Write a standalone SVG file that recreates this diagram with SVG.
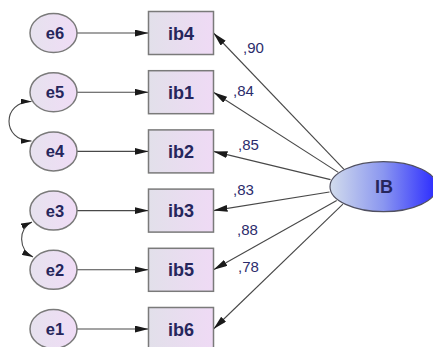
<svg xmlns="http://www.w3.org/2000/svg" width="433" height="347" viewBox="0 0 433 347">
<style>
.box{fill:url(#gBox);stroke:#7a7a7a;stroke-width:1.5}
.err{fill:url(#gErr);stroke:#7a7a7a;stroke-width:1.5}
.lat{fill:url(#gLat);stroke:#505060;stroke-width:1.2}
.t{font-family:"Liberation Sans",Arial,sans-serif;font-weight:bold;fill:#26265c;text-anchor:middle}
.te{font-size:16.5px}
.tb{font-size:18px}
.tl{font-size:18px}
.w{font-family:"Liberation Sans",Arial,sans-serif;font-size:15px;fill:#2c2c6c}
.c{fill:none;stroke:#484848;stroke-width:1.1}
.a{marker-end:url(#arr)}
.cv{marker-start:url(#arrS);marker-end:url(#arrS)}
</style>
<defs>
<linearGradient id="gBox" x1="0" y1="0" x2="1" y2="0">
<stop offset="0" stop-color="#e2e0ea"/>
<stop offset="1" stop-color="#efdaf5"/>
</linearGradient>
<linearGradient id="gErr" x1="0" y1="0" x2="1" y2="0">
<stop offset="0" stop-color="#e6e2ee"/>
<stop offset="1" stop-color="#f0dcf6"/>
</linearGradient>
<linearGradient id="gLat" x1="0" y1="0" x2="1" y2="0">
<stop offset="0" stop-color="#d2dcec"/>
<stop offset="0.5" stop-color="#8a96f0"/>
<stop offset="1" stop-color="#2a2aff"/>
</linearGradient>
<marker id="arr" markerUnits="userSpaceOnUse" markerWidth="14" markerHeight="7" refX="14" refY="3.5" orient="auto">
<path d="M0,0 L14,3.5 L0,7 z" fill="#1a1a1a"/>
</marker>
<marker id="arrS" markerUnits="userSpaceOnUse" markerWidth="11" markerHeight="6" refX="11" refY="3" orient="auto-start-reverse">
<path d="M0,0 L11,3 L0,6 z" fill="#1a1a1a"/>
</marker>
</defs>
<g id="connectors">
<line class="c a" x1="77" y1="33" x2="148.5" y2="33"/>
<line class="c a" x1="77" y1="92.2" x2="148.5" y2="92.2"/>
<line class="c a" x1="77" y1="151.4" x2="148.5" y2="151.4"/>
<line class="c a" x1="77" y1="210.6" x2="148.5" y2="210.6"/>
<line class="c a" x1="77" y1="269.8" x2="148.5" y2="269.8"/>
<line class="c a" x1="77" y1="329" x2="148.5" y2="329"/>
<line class="c a" x1="344" y1="169.4" x2="213.5" y2="33"/>
<line class="c a" x1="338.3" y1="172.4" x2="213.5" y2="92.2"/>
<line class="c a" x1="330.5" y1="179.6" x2="213.5" y2="151.4"/>
<line class="c a" x1="329.5" y1="192" x2="213.5" y2="210.6"/>
<line class="c a" x1="336.7" y1="200.5" x2="213.5" y2="269.8"/>
<line class="c a" x1="342.9" y1="204.1" x2="213.5" y2="329"/>
<path class="c cv" d="M31.5,101.5 C1.5,101.5 1.5,141 31.5,141"/>
<path class="c cv" d="M32,222 C18,228 18,250 33,257"/>
<text class="w" x="243" y="53">,90</text>
<text class="w" x="233" y="96">,84</text>
<text class="w" x="238" y="150">,85</text>
<text class="w" x="233" y="195">,83</text>
<text class="w" x="237" y="235">,88</text>
<text class="w" x="238" y="272">,78</text>
</g>
<g id="e6"><ellipse class="err" cx="53.5" cy="33" rx="23.5" ry="19.5"/><text class="t te" x="55" y="39">e6</text></g>
<g id="e5"><ellipse class="err" cx="53.5" cy="92.2" rx="23.5" ry="19.5"/><text class="t te" x="55" y="98.2">e5</text></g>
<g id="e4"><ellipse class="err" cx="53.5" cy="151.4" rx="23.5" ry="19.5"/><text class="t te" x="55" y="157.4">e4</text></g>
<g id="e3"><ellipse class="err" cx="53.5" cy="210.6" rx="23.5" ry="19.5"/><text class="t te" x="55" y="216.6">e3</text></g>
<g id="e2"><ellipse class="err" cx="53.5" cy="269.8" rx="23.5" ry="19.5"/><text class="t te" x="55" y="275.8">e2</text></g>
<g id="e1"><ellipse class="err" cx="53.5" cy="329" rx="23.5" ry="19.5"/><text class="t te" x="55" y="335">e1</text></g>
<g id="ib4"><rect class="box" x="148.5" y="11.5" width="65" height="43"/><text class="t tb" x="181" y="39.5">ib4</text></g>
<g id="ib1"><rect class="box" x="148.5" y="70.7" width="65" height="43"/><text class="t tb" x="181" y="98.7">ib1</text></g>
<g id="ib2"><rect class="box" x="148.5" y="129.9" width="65" height="43"/><text class="t tb" x="181" y="157.9">ib2</text></g>
<g id="ib3"><rect class="box" x="148.5" y="189.1" width="65" height="43"/><text class="t tb" x="181" y="217.1">ib3</text></g>
<g id="ib5"><rect class="box" x="148.5" y="248.3" width="65" height="43"/><text class="t tb" x="181" y="276.3">ib5</text></g>
<g id="ib6"><rect class="box" x="148.5" y="307.5" width="65" height="43"/><text class="t tb" x="181" y="335.5">ib6</text></g>
<g id="IB"><ellipse class="lat" cx="383.5" cy="186.7" rx="53.5" ry="25"/><text class="t tl" x="384" y="193">IB</text></g>
</svg>
